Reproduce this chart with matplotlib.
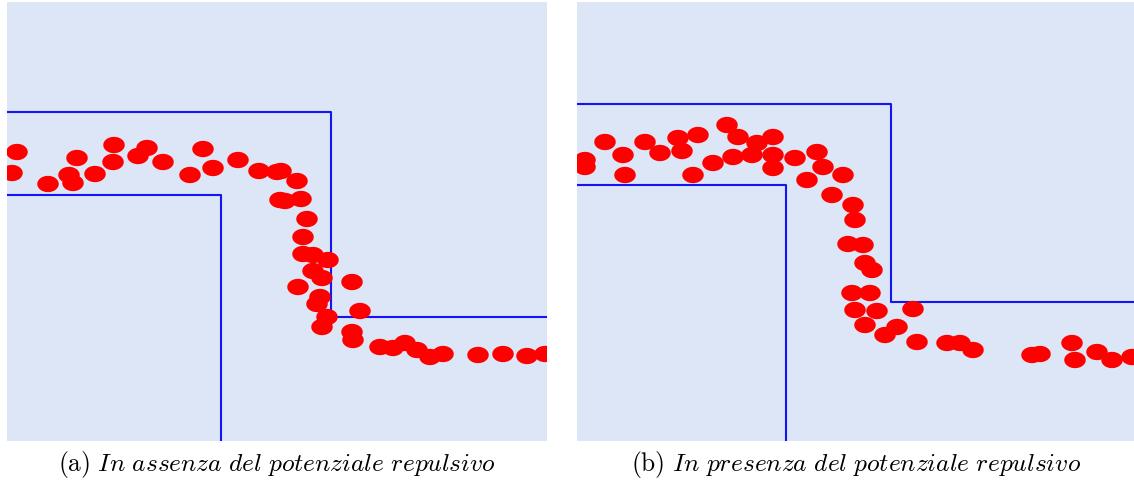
import numpy as np
import matplotlib.pyplot as plt
from matplotlib.path import Path

plt.rcParams["mathtext.fontset"] = "cm"

# dot centres (pixel coords, y down)
left_x = [17, 12, 48, 77, 69, 73, 95, 114, 113, 138, 147, 163, 203, 190, 213, 238, 259, 277, 280,
          281, 297, 285, 301, 307, 303, 303, 313, 328, 313, 322, 298, 352, 320, 317, 327, 322, 360,
          352, 353, 380, 393, 405, 417, 430, 443, 478, 503, 527, 545]
left_y = [152, 173, 184, 158, 175, 183, 174, 145, 162, 156, 148, 162, 149, 175, 168, 160, 171, 172, 200,
          171, 181, 201, 199, 219, 237, 254, 255, 260, 271, 278, 287, 282, 297, 304, 317, 327, 311,
          332, 340, 347, 348, 343, 350, 357, 354, 355, 354, 356, 354]

right_x = [585, 585, 605, 623, 625, 645, 660, 678, 682, 698, 693, 713, 727, 738, 733, 757, 752, 773,
           773, 773, 795, 817, 823, 807, 843, 832, 853, 855, 848, 863, 865, 872, 852, 870, 855, 877,
           865, 885, 897, 913, 917, 947, 960, 973, 1032, 1040, 1072, 1075, 1097, 1112, 1132]
right_y = [160, 167, 142, 155, 175, 142, 153, 138, 151, 135, 175, 163, 125, 137, 157, 143, 155, 137,
           155, 168, 158, 152, 167, 180, 175, 195, 205, 220, 244, 245, 263, 270, 293, 293, 310, 311,
           325, 335, 327, 309, 342, 343, 343, 350, 355, 354, 343, 360, 352, 360, 357]

# corridor walls (pixel coords)
left_outer_x = [7, 331, 331, 547]
left_outer_y = [112, 112, 317, 317]
left_inner_x = [7, 221, 221]
left_inner_y = [195, 195, 441]

right_outer_x = [577, 891, 891, 1134]
right_outer_y = [104, 104, 302, 302]
right_inner_x = [577, 786, 786]
right_inner_y = [185, 185, 441]

captions = [r"$\mathrm{(a)}\ \mathit{In\ assenza\ del\ potenziale\ repulsivo}$",
            r"$\mathrm{(b)}\ \mathit{In\ presenza\ del\ potenziale\ repulsivo}$"]

# slightly flattened blob marker
t = np.linspace(0, 2 * np.pi, 40)
blob = Path(np.column_stack([np.cos(t), 0.76 * np.sin(t)]), closed=True)

W, H = 1134, 482
fig = plt.figure(figsize=(W / 100, H / 100), dpi=100)
bg = "#dce6f6"

panels = [
    (7, 547, left_x, left_y, left_outer_x, left_outer_y, left_inner_x, left_inner_y),
    (577, 1134, right_x, right_y, right_outer_x, right_outer_y, right_inner_x, right_inner_y),
]
top, bottom = 2, 441

for i, (x0, x1, dx, dy, ox, oy, ix, iy) in enumerate(panels):
    ax = fig.add_axes([x0 / W, 1 - bottom / H, (x1 - x0) / W, (bottom - top) / H])
    ax.set_facecolor(bg)
    ax.set_xlim(x0, x1)
    ax.set_ylim(bottom, top)
    ax.plot(ox, oy, color="#1414f5", lw=1.5, zorder=2)
    ax.plot(ix, iy, color="#1414f5", lw=1.5, zorder=2)
    ax.scatter(dx, dy, s=240, marker=blob, color="red", edgecolors="none", zorder=3)
    ax.set_xticks([])
    ax.set_yticks([])
    for s in ax.spines.values():
        s.set_visible(False)
    fig.text((x0 + x1) / 2 / W, 1 - 465 / H, captions[i], ha="center", va="center", fontsize=18.3)

fig.savefig("out.png", dpi=100)
